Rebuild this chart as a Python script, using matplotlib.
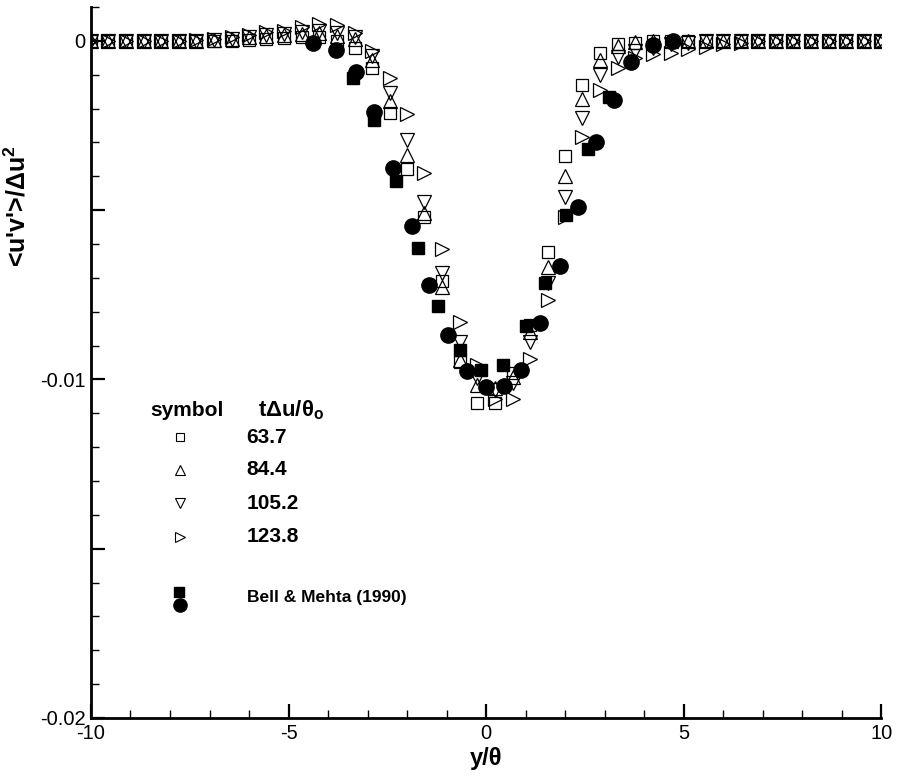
"""
Reynolds shear stress profiles <u'v'>/du^2 across the mixing layer,
simulation at four times vs Bell & Mehta (1990) data.
"""
import matplotlib
matplotlib.use("Agg")
import matplotlib.pyplot as plt
from matplotlib.ticker import MultipleLocator, FuncFormatter

plt.rcParams['font.family'] = ['Liberation Sans', 'DejaVu Sans']
plt.rcParams['mathtext.fontset'] = 'custom'
plt.rcParams['mathtext.rm'] = 'Liberation Sans'
plt.rcParams['mathtext.bf'] = 'Liberation Sans:bold'

# simulation grid (y/theta)
y_sim = [-10.00, -9.56, -9.11, -8.67, -8.22, -7.78, -7.33, -6.89, -6.44, -6.00,
         -5.56, -5.11, -4.67, -4.22, -3.78, -3.33, -2.89, -2.44, -2.00, -1.56,
         -1.11, -0.67, -0.22, 0.22, 0.67, 1.11, 1.56, 2.00, 2.44, 2.89,
         3.33, 3.78, 4.22, 4.67, 5.11, 5.56, 6.00, 6.44, 6.89, 7.33,
         7.78, 8.22, 8.67, 9.11, 9.56, 10.00]

uv_637 = [0.0, 0.0, 0.0, 0.0, 0.0, 0.0, 0.0, 0.0, 0.00001, 0.00002,
          0.00005, 0.00008, 0.0001, 0.0001, 0.0, -0.0002, -0.0008, -0.00213, -0.00378, -0.0052,
          -0.00709, -0.00948, -0.0107, -0.0107, -0.0098, -0.0084, -0.00623, -0.0034, -0.0013, -0.00035,
          -0.0001, -0.00005, 0.0, 0.0, 0.0, 0.0, 0.0, 0.0, 0.0, 0.0,
          0.0, 0.0, 0.0, 0.0, 0.0, 0.0]

uv_844 = [0.0, 0.0, 0.0, 0.0, 0.0, 0.0, 0.0, 0.00002, 0.00005, 0.0001,
          0.00013, 0.00017, 0.0002, 0.00022, 0.00015, 0.00005, -0.00056, -0.00177, -0.00337, -0.00508,
          -0.00727, -0.00942, -0.01016, -0.01025, -0.00993, -0.0086, -0.00668, -0.00399, -0.00171, -0.00056,
          -0.00015, -0.00003, 0.0, 0.0, 0.0, 0.0, 0.0, 0.0, 0.0, 0.0,
          0.0, 0.0, 0.0, 0.0, 0.0, 0.0]

uv_1052 = [0.0, 0.0, 0.0, 0.0, 0.0, 0.0, 0.0, 0.00003, 0.00006, 0.00012,
           0.00016, 0.0002, 0.00025, 0.00028, 0.00022, 0.00012, -0.00044, -0.00154, -0.00292, -0.00476,
           -0.00685, -0.00889, -0.00996, -0.0103, -0.0101, -0.00889, -0.00715, -0.0046, -0.00227, -0.001,
           -0.00047, -0.0003, -0.0002, -0.0001, -0.00005, 0.0, 0.0, 0.0, 0.0, 0.0,
           0.0, 0.0, 0.0, 0.0, 0.0, 0.0]

uv_1238 = [0.0, 0.0, 0.0, 0.0, 0.0, 0.0, 0.00002, 0.00005, 0.0001, 0.00018,
           0.00027, 0.0003, 0.0004, 0.0005, 0.00047, 0.00024, -0.0003, -0.0011, -0.00216, -0.0039,
           -0.00614, -0.0083, -0.00957, -0.01058, -0.01058, -0.0094, -0.00765, -0.0052, -0.00284, -0.00145,
           -0.0008, -0.0005, -0.0004, -0.00035, -0.00024, -0.00018, -0.0001, -0.00005, 0.0, 0.0,
           0.0, 0.0, 0.0, 0.0, 0.0, 0.0]

# Bell & Mehta (1990), two sets
y_bm_sq = [-3.37, -2.84, -2.28, -1.72, -1.22, -0.66, -0.13, 0.43, 1.01, 1.50, 2.03, 2.59, 3.12]
uv_bm_sq = [-0.00109, -0.00233, -0.00414, -0.00612, -0.00783, -0.00913, -0.00972, -0.00957,
            -0.00842, -0.00715, -0.00514, -0.00319, -0.00165]

y_bm_ci = [-4.39, -3.80, -3.30, -2.84, -2.36, -1.88, -1.44, -0.96, -0.48, 0.00,
           0.46, 0.89, 1.37, 1.88, 2.33, 2.79, 3.24, 3.68, 4.23, 4.74]
uv_bm_ci = [-0.00006, -0.00027, -0.00092, -0.0021, -0.00375, -0.00547, -0.00721, -0.00869, -0.00975, -0.01022,
            -0.01019, -0.00972, -0.00833, -0.00665, -0.0049, -0.00298, -0.00174, -0.00062, -0.00012, 0.0]

times = ["63.7", "84.4", "105.2", "123.8"]
markers = ["s", "^", "v", ">"]
bm_label = "Bell & Mehta (1990)"


def main():
    fig = plt.figure(figsize=(8.98, 7.80), dpi=100)
    ax = fig.add_axes([0.1013, 0.0795, 0.880, 0.9115])

    series = [uv_637, uv_844, uv_1052, uv_1238]
    sizes = [8.5, 9.5, 9.5, 9.5]
    for uv, m, ms in zip(series, markers, sizes):
        ax.plot(y_sim, uv, m, ms=ms, mfc='none', mec='black', mew=0.9, linestyle='none')
    ax.plot(y_bm_sq, uv_bm_sq, 's', ms=8, color='black', linestyle='none')
    ax.plot(y_bm_ci, uv_bm_ci, 'o', ms=11, color='black', linestyle='none')

    ax.set_xlim(-10, 10)
    ax.set_ylim(-0.02, 0.001)
    for side in ['top', 'right']:
        ax.spines[side].set_visible(False)
    for side in ['left', 'bottom']:
        ax.spines[side].set_linewidth(2.0)

    ax.xaxis.set_major_locator(MultipleLocator(5))
    ax.xaxis.set_minor_locator(MultipleLocator(1))
    ax.yaxis.set_major_locator(MultipleLocator(0.005))
    ax.yaxis.set_minor_locator(MultipleLocator(0.001))
    ax.xaxis.set_major_formatter(FuncFormatter(lambda v, p: "%g" % round(v, 6)))

    def yfmt(v, p):
        if abs(round(v / 0.01) * 0.01 - v) < 1e-9:
            return "%g" % round(v, 6)
        return ""
    ax.yaxis.set_major_formatter(FuncFormatter(yfmt))

    ax.tick_params(which='major', direction='in', length=10, width=1.6, labelsize=14.5, pad=4)
    ax.tick_params(which='minor', direction='in', length=6, width=1.0)

    ax.set_xlabel("y/θ", fontsize=17, fontweight='bold', labelpad=3)
    ax.set_ylabel(r"<u'v'>/Δu$^\mathbf{2}$", fontsize=18, fontweight='bold')
    ax.yaxis.set_label_coords(-0.077, 0.72)

    # Tecplot-style legend block
    ax.text(0.0747, 0.433, "symbol", transform=ax.transAxes, fontsize=15,
            fontweight='bold', va='center', ha='left')
    ax.text(0.211, 0.433, r"tΔu/θ$_\mathbf{o}$", transform=ax.transAxes, fontsize=16,
            fontweight='bold', va='center', ha='left')
    rows = [0.395, 0.349, 0.302, 0.2546]
    for t, m, yy in zip(times, markers, rows):
        ax.plot([0.1127], [yy], m, ms=6.5 if m != 's' else 6, mfc='none', mec='black',
                mew=0.8, transform=ax.transAxes, clip_on=False)
        ax.text(0.197, yy, t, transform=ax.transAxes, fontsize=15,
                fontweight='bold', va='center', ha='left')
    ax.plot([0.1115], [0.177], 's', ms=7, color='black', transform=ax.transAxes)
    ax.plot([0.1127], [0.159], 'o', ms=9.5, color='black', transform=ax.transAxes)
    ax.text(0.197, 0.169, bm_label, transform=ax.transAxes, fontsize=12.5,
            fontweight='bold', va='center', ha='left')

    fig.savefig("out.png", dpi=100)
    return 0


if __name__ == "__main__":
    main()
